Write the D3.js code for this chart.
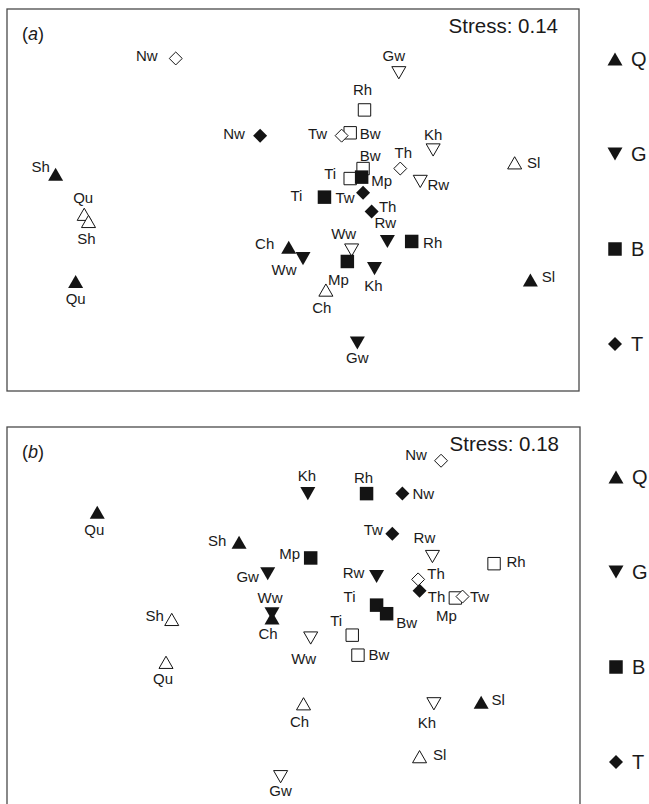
<!DOCTYPE html>
<html>
<head>
<meta charset="utf-8">
<script src="https://cdn.jsdelivr.net/npm/d3@7"></script>
<style>
  body { margin: 0; background: #fff; }
  svg { display: block; }
  text { font-family: "Liberation Sans", Arial, Helvetica, sans-serif; fill: #1a1a1a; }
</style>
</head>
<body>
<svg id="chart" width="649" height="804"></svg>
<script>
// ---- Data: NMDS ordination scores (dimension 1, dimension 2) ----
const groups = ["Q", "G", "B", "T"];

// Panel (a), stress 0.14
const stressA = 0.14;
const sitesA  = ["Sh","Qu","Ch","Sl","Qu","Sh","Ch","Sl",
                 "Ww","Rw","Kh","Gw","Gw","Kh","Rw","Ww",
                 "Mp","Ti","Rh","Mp","Rh","Bw","Bw","Ti",
                 "Nw","Tw","Th","Nw","Tw","Th"];
const groupA  = ["Q","Q","Q","Q","Q","Q","Q","Q",
                 "G","G","G","G","G","G","G","G",
                 "B","B","B","B","B","B","B","B",
                 "T","T","T","T","T","T"];
const filledA = [1,1,1,1,0,0,0,0, 1,1,1,1,0,0,0,0, 1,1,1,1,0,0,0,0, 1,1,1,0,0,0];
const dim1A   = [-1.66,-1.52,-0.03,1.66,-1.46,-1.43,0.23,1.55,
                  0.07,0.66,0.57,0.45,0.74,0.98,0.89,0.41,
                  0.48,0.22,0.83,0.38,0.50,0.40,0.49,0.40,
                 -0.23,0.49,0.55,-0.82,0.34,0.75];
const dim2A   = [0.18,-0.57,-0.33,-0.56,-0.10,-0.15,-0.63,0.26,
                 -0.41,-0.29,-0.48,-1.00,0.89,0.35,0.13,-0.35,
                  0.16,0.02,-0.29,-0.43,0.63,0.47,0.22,0.15,
                  0.45,0.05,-0.08,0.99,0.45,0.22];

// Panel (b), stress 0.18
const stressB = 0.18;
const sitesB  = ["Qu","Sh","Ch","Sl","Sh","Qu","Ch","Sl",
                 "Kh","Gw","Rw","Ww","Rw","Ww","Kh","Gw",
                 "Rh","Mp","Ti","Bw","Rh","Mp","Ti","Bw",
                 "Nw","Tw","Th","Nw","Th","Tw"];
const groupB  = groupA.slice();
const filledB = filledA.slice();
const dim1B   = [-1.37,-0.38,-0.15,1.31,-0.85,-0.89,0.07,0.88,
                  0.10,-0.18,0.58,-0.15,0.97,0.12,0.98,-0.09,
                  0.51,0.12,0.58,0.65,1.40,1.13,0.41,0.45,
                  0.76,0.69,0.88,1.03,0.87,1.18];
const dim2B   = [0.74,0.53,0.00,-0.59,-0.01,-0.31,-0.60,-0.97,
                 0.87,0.31,0.29,0.03,0.43,-0.14,-0.60,-1.11,
                 0.87,0.42,0.09,0.03,0.38,0.14,-0.12,-0.26,
                 0.87,0.59,0.19,1.10,0.27,0.15];

// ---- Layout: label offsets (px) from each marker ----
const labelOffsetA = [[-15,-8],[0,17],[-24,-4],[18,-4],[-1,-17],[-2,17],[-4,17],[19,0],
                      [-19,11],[-2,-19],[-1,17],[0,15],[-5,-17],[0,-15],[18,3],[-8,-17],
                      [20,3],[-28,-2],[21,1],[-9,18],[-2,-20],[20,1],[7,-13],[-20,-5],
                      [-26,-2],[-18,5],[16,-5],[-29,-3],[-24,-2],[3,-16]];
const labelOffsetB = [[-3,17],[-22,-2],[-4,15],[17,-3],[-17,-4],[-3,16],[-4,18],[20,-2],
                      [-1,-18],[-20,3],[-23,-4],[-2,-16],[-8,-19],[-7,20],[-7,19],[0,14],
                      [-3,-16],[-21,-4],[-27,-9],[20,9],[22,-2],[-9,18],[-16,-15],[21,-1],
                      [21,0],[-19,-4],[17,6],[-25,-6],[18,-6],[17,0]];

// ---- Marker shapes (size = squared width in px) ----
const triUp = { draw(ctx, size) { const s = Math.sqrt(size), h = s * 0.87;
  ctx.moveTo(0, -h / 2); ctx.lineTo(s / 2, h / 2); ctx.lineTo(-s / 2, h / 2); ctx.closePath(); } };
const triDown = { draw(ctx, size) { const s = Math.sqrt(size), h = s * 0.87;
  ctx.moveTo(0, h / 2); ctx.lineTo(s / 2, -h / 2); ctx.lineTo(-s / 2, -h / 2); ctx.closePath(); } };
const square = { draw(ctx, size) { const s = Math.sqrt(size) / 2;
  ctx.rect(-s, -s, 2 * s, 2 * s); } };
const diamond = { draw(ctx, size) { const r = Math.sqrt(size) / 2;
  ctx.moveTo(0, -r); ctx.lineTo(r, 0); ctx.lineTo(0, r); ctx.lineTo(-r, 0); ctx.closePath(); } };
const shapeOf = { Q: triUp, G: triDown, B: square, T: diamond };
const sizeOf  = { Q: 225, G: 225, B: 182, T: 196 };

const ink = "#141414";
const svg = d3.select("#chart");

function drawPanel(p) {
  const x = d3.scaleLinear().domain([-2, 2]).range([p.left, p.right]);
  const y = d3.scaleLinear().domain([-1.336, 1.336]).range([p.bottom, p.top]);
  const g = svg.append("g");

  g.append("rect")
    .attr("x", p.left).attr("y", p.top)
    .attr("width", p.right - p.left).attr("height", p.bottom - p.top)
    .attr("fill", "none").attr("stroke", "#4a4a4a").attr("stroke-width", 1.3);

  const rows = p.sites.map((s, i) => ({
    site: s, group: p.group[i], filled: p.filled[i],
    d1: p.dim1[i], d2: p.dim2[i], off: p.offsets[i]
  }));
  // open markers first, filled on top, groups in legend order
  const order = rows.slice().sort((a, b) =>
    (groups.indexOf(a.group) - groups.indexOf(b.group)) || (a.filled - b.filled));

  g.selectAll("path.pt").data(order).join("path")
    .attr("class", "pt")
    .attr("transform", d => `translate(${x(d.d1)},${y(d.d2)})`)
    .attr("d", d => d3.symbol(shapeOf[d.group], d.filled ? sizeOf[d.group] : sizeOf[d.group] - 28)())
    .attr("fill", d => d.filled ? ink : "#fff")
    .attr("stroke", d => d.filled ? "none" : ink)
    .attr("stroke-width", 1);

  g.selectAll("text.lab").data(rows).join("text")
    .attr("class", "lab")
    .attr("x", d => x(d.d1) + d.off[0])
    .attr("y", d => y(d.d2) + d.off[1])
    .attr("text-anchor", "middle")
    .attr("dominant-baseline", "central")
    .attr("font-size", 15)
    .text(d => d.site);

  const tag = g.append("text")
    .attr("x", p.left + 15).attr("y", p.top + 31)
    .attr("font-size", 18);
  tag.append("tspan").text("(");
  tag.append("tspan").attr("font-style", "italic").text(p.tag);
  tag.append("tspan").text(")");

  g.append("text")
    .attr("x", p.right - 21).attr("y", p.top + 24)
    .attr("text-anchor", "end")
    .attr("font-size", 20.5)
    .text("Stress: " + p.stress.toFixed(2));

  // legend to the right of the frame
  const leg = g.selectAll("g.leg").data(groups).join("g")
    .attr("class", "leg")
    .attr("transform", (d, i) => `translate(${p.right + 36},${p.top + 50 + i * 95})`);
  leg.append("path")
    .attr("d", d => d3.symbol(shapeOf[d], sizeOf[d])())
    .attr("fill", ink);
  leg.append("text")
    .attr("x", 16).attr("y", 0)
    .attr("dominant-baseline", "central")
    .attr("font-size", 20)
    .text(d => d);
}

drawPanel({ left: 7, right: 579, top: 9, bottom: 391, tag: "a", stress: stressA,
  sites: sitesA, group: groupA, filled: filledA, dim1: dim1A, dim2: dim2A, offsets: labelOffsetA });
drawPanel({ left: 7, right: 580, top: 427, bottom: 809, tag: "b", stress: stressB,
  sites: sitesB, group: groupB, filled: filledB, dim1: dim1B, dim2: dim2B, offsets: labelOffsetB });
</script>
</body>
</html>
